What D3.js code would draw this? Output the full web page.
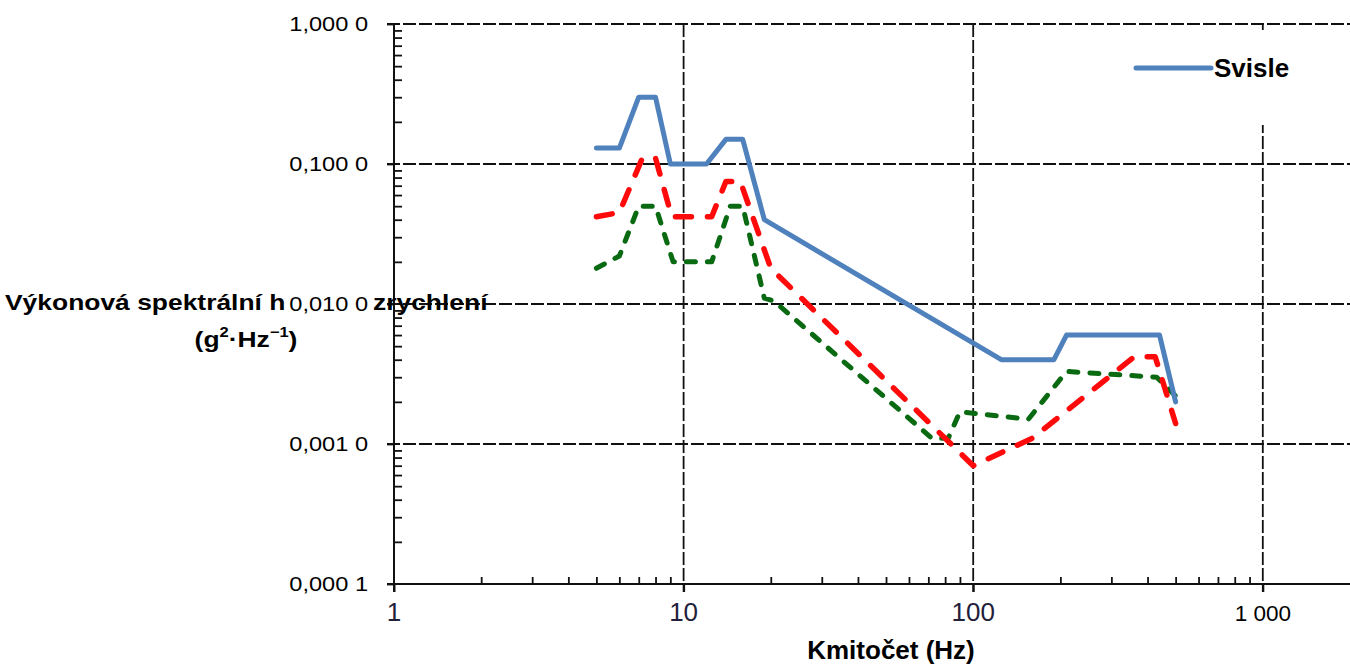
<!DOCTYPE html>
<html>
<head>
<meta charset="utf-8">
<script src="https://cdn.jsdelivr.net/npm/d3@7/dist/d3.min.js"></script>
<style>
  html, body { margin: 0; padding: 0; background: #fff; }
  svg { display: block; font-family: "Liberation Sans", Arial, sans-serif; }
</style>
</head>
<body>
<svg id="chart" width="1350" height="670"></svg>
<script>
// Axis ticks and labels (Czech number formatting)
const freqTicks = [1, 10, 100, 1000];
const freqTickLabels = ["1", "10", "100", "1 000"];
const freqMinorTicks = [2, 3, 4, 5, 6, 7, 8, 9, 20, 30, 40, 50, 60, 70, 80, 90, 200, 300, 400, 500, 600, 700, 800, 900];
const psdTicks = [1, 0.1, 0.01, 0.001, 0.0001];
const psdTickLabels = ["1,000 0", "0,100 0", "0,010 0", "0,001 0", "0,000 1"];
const psdMinorTicks = [];
[0.0001, 0.001, 0.01, 0.1].forEach(b => { for (let k = 2; k <= 9; k++) psdMinorTicks.push(b * k); });

// Vertical profile (solid blue)
const svisleFreq = [5, 6, 7, 8, 9, 12, 14, 16, 19, 125, 190, 210, 440, 500];
const svislePsd  = [0.13, 0.13, 0.3, 0.3, 0.1, 0.1, 0.15, 0.15, 0.04, 0.004, 0.004, 0.006, 0.006, 0.002];

// Second profile (red dashed)
const podelneFreq = [5, 6, 7.2, 8, 9.1, 12.5, 14, 15.7, 20, 100, 160, 360, 425, 500];
const podelnePsd  = [0.042, 0.045, 0.11, 0.11, 0.042, 0.042, 0.075, 0.075, 0.018, 0.0007, 0.0011, 0.0042, 0.0042, 0.0014];

// Third profile (green dashed)
const pricneFreq = [5, 6, 7, 8, 9.2, 12.5, 14.5, 16, 19, 20.5, 72, 82, 90, 155, 210, 430, 500];
const pricnePsd  = [0.018, 0.022, 0.05, 0.05, 0.02, 0.02, 0.05, 0.05, 0.011, 0.0105, 0.0011, 0.0011, 0.0017, 0.0015, 0.0033, 0.003, 0.0022];

// Y axis title pieces left and right of the 0,010 0 label, and the unit line
const yTitleLeft = "Výkonová spektrální h";
const yTitleRight = "zrychlení";

const svg = d3.select("#chart");

const x = d3.scaleLog().domain([1, 2000]).range([394, 394 + 289.6 * Math.log10(2000)]);
const y = d3.scaleLog().domain([0.0001, 1]).range([584, 24]);
const xEnd = 1350;

const ink = "#111";

// Grid: decade lines
const grid = svg.append("g").attr("stroke", ink).attr("stroke-width", 1.8).attr("stroke-dasharray", "13,3");
grid.selectAll("line.h").data(psdTicks.slice(0, 4)).join("line")
  .attr("class", "h")
  .attr("x1", 387).attr("x2", xEnd)
  .attr("y1", d => y(d)).attr("y2", d => y(d));
grid.selectAll("line.v").data(freqTicks.slice(1)).join("line")
  .attr("class", "v")
  .attr("x1", d => x(d)).attr("x2", d => x(d))
  .attr("y1", y(1)).attr("y2", 592);

// Y axis
const yAxis = d3.axisLeft(y).tickValues(psdTicks).tickSize(7).tickFormat("");
const gy = svg.append("g").attr("transform", `translate(${x(1)},0)`).call(yAxis);
gy.select(".domain").attr("stroke", ink).attr("stroke-width", 2).attr("d", `M0,${y(1)}V592`);
gy.selectAll(".tick line").attr("stroke", ink).attr("stroke-width", 1.8);
const yMinor = d3.axisRight(y).tickValues(psdMinorTicks).tickSize(8).tickFormat("");
const gym = svg.append("g").attr("transform", `translate(${x(1)},0)`).call(yMinor);
gym.select(".domain").remove();
gym.selectAll(".tick line").attr("stroke", ink).attr("stroke-width", 1.8);

// X axis
const xAxis = d3.axisBottom(x).tickValues(freqTicks).tickSize(8).tickFormat("");
const gx = svg.append("g").attr("transform", `translate(0,${y(0.0001)})`).call(xAxis);
gx.select(".domain").attr("stroke", ink).attr("stroke-width", 2).attr("d", `M387,0H${xEnd}`);
gx.selectAll(".tick line").attr("stroke", ink).attr("stroke-width", 2);
const xMinor = d3.axisTop(x).tickValues(freqMinorTicks).tickSize(7).tickFormat("");
const gxm = svg.append("g").attr("transform", `translate(0,${y(0.0001)})`).call(xMinor);
gxm.select(".domain").remove();
gxm.selectAll(".tick line").attr("stroke", ink).attr("stroke-width", 1.8);

// Y tick labels with white backing
const yLab = svg.append("g").selectAll("g").data(psdTicks).join("g")
  .attr("transform", d => `translate(368,${y(d)})`);
yLab.append("rect").attr("x", -84).attr("y", -12).attr("width", 88).attr("height", 24).attr("fill", "#fff");
yLab.append("text")
  .attr("transform", "scale(1.18,1)")
  .attr("text-anchor", "end").attr("dy", "0.35em")
  .attr("font-size", 20).attr("fill", "#000")
  .text((d, i) => psdTickLabels[i]);

// Y axis title
const yTitle = svg.append("g").attr("font-weight", "bold").attr("fill", "#000").attr("font-size", 22.4);
yTitle.append("text")
  .attr("transform", "translate(5,310) scale(1.18,1)")
  .text(yTitleLeft);
yTitle.append("text")
  .attr("transform", "translate(373,310) scale(1.18,1)")
  .text(yTitleRight);
const yTitle2 = yTitle.append("text")
  .attr("transform", "translate(246,347) scale(1.18,1)")
  .attr("text-anchor", "middle");
yTitle2.append("tspan").text("(g");
yTitle2.append("tspan").attr("font-size", 14).attr("dy", -10).text("2");
yTitle2.append("tspan").attr("dy", 10).text("·Hz");
yTitle2.append("tspan").attr("font-size", 14).attr("dy", -10).text("−1");
yTitle2.append("tspan").attr("dy", 10).text(")");

// X tick labels
svg.append("g").selectAll("text").data(freqTicks).join("text")
  .attr("transform", d => `translate(${x(d)},621)`)
  .attr("text-anchor", "middle")
  .attr("font-size", (d, i) => i < 3 ? 26 : 22.5)
  .attr("fill", (d, i) => i < 3 ? "#22203a" : "#000")
  .text((d, i) => freqTickLabels[i]);

// X axis title
svg.append("text")
  .attr("x", 891).attr("y", 659)
  .attr("text-anchor", "middle")
  .attr("font-size", 26).attr("font-weight", "bold")
  .text("Kmitočet (Hz)");

// Series
const line = d3.line().x(d => x(d[0])).y(d => y(d[1]));
const zip = (a, b) => a.map((v, i) => [v, b[i]]);

svg.append("path").datum(zip(pricneFreq, pricnePsd))
  .attr("d", line).attr("fill", "none")
  .attr("stroke", "#0a6a12").attr("stroke-width", 5)
  .attr("stroke-dasharray", "9,12").attr("stroke-linecap", "round").attr("stroke-linejoin", "round");

svg.append("path").datum(zip(podelneFreq, podelnePsd))
  .attr("d", line).attr("fill", "none")
  .attr("stroke", "#ff0a0a").attr("stroke-width", 5.5)
  .attr("stroke-dasharray", "16,16").attr("stroke-linecap", "round").attr("stroke-linejoin", "round");

svg.append("path").datum(zip(svisleFreq, svislePsd))
  .attr("d", line).attr("fill", "none")
  .attr("stroke", "#4f81bd").attr("stroke-width", 5)
  .attr("stroke-linecap", "round").attr("stroke-linejoin", "round");

// Legend
const legend = svg.append("g");
legend.append("rect").attr("x", 1100).attr("y", 30).attr("width", 235).attr("height", 95).attr("fill", "#fff");
legend.append("line").attr("x1", 1136).attr("x2", 1211).attr("y1", 68).attr("y2", 68)
  .attr("stroke", "#4f81bd").attr("stroke-width", 5).attr("stroke-linecap", "round");
legend.append("text").attr("x", 1214).attr("y", 77)
  .attr("font-size", 26).attr("font-weight", "bold").text("Svisle");
</script>
</body>
</html>
